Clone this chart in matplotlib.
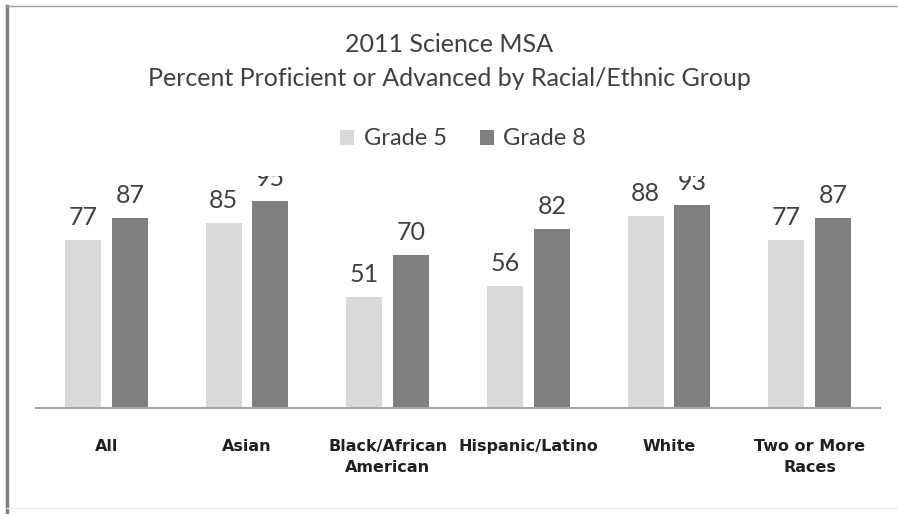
import numpy as np
import matplotlib.pyplot as plt
from matplotlib.lines import Line2D

groups = ['All', 'Asian', 'Black/African\nAmerican', 'Hispanic/Latino', 'White', 'Two or More\nRaces']
grade5 = [77, 85, 51, 56, 88, 77]
grade8 = [87, 95, 70, 82, 93, 87]

light = '#d9d9d9'
dark = '#7f7f7f'
txt = '#404040'

fig = plt.figure(figsize=(8.98, 5.14), dpi=100)
W, H = 898, 514
ax = fig.add_axes([36 / W, 1 - 408 / H, 844 / W, (408 - 176) / H])

x = np.arange(len(groups))
w = 0.256
b5 = ax.bar(x - 0.167, grade5, w, color=light, label='Grade 5')
b8 = ax.bar(x + 0.167, grade8, w, color=dark, label='Grade 8')

for bars, vals in [(b5, grade5), (b8, grade8)]:
    for r, v in zip(bars, vals):
        t = ax.annotate(str(v), (r.get_x() + r.get_width() / 2, v), xytext=(0, 8),
                        textcoords='offset points', ha='center', va='bottom',
                        fontsize=18, color=txt, family='Lato')
        t.set_clip_box(ax.bbox)
        t.set_clip_on(True)

ax.set_xlim(-0.5, 5.5)
ax.set_ylim(0, 106.4)
ax.set_yticks([])
ax.set_xticks(x)
ax.set_xticklabels(groups, fontsize=11.5, color='#202020', family='DejaVu Sans',
                   fontweight='bold', linespacing=1.5)
ax.tick_params(axis='x', length=0, pad=22)
for s in ['top', 'right', 'left']:
    ax.spines[s].set_visible(False)
ax.spines['bottom'].set_color('#a6a6a6')
ax.spines['bottom'].set_linewidth(1.5)

fig.text(0.5, 1 - 45 / H, '2011 Science MSA', ha='center', va='center',
         fontsize=18, color=txt, family='Lato')
fig.text(0.5, 1 - 78 / H, 'Percent Proficient or Advanced by Racial/Ethnic Group',
         ha='center', va='center', fontsize=18, color=txt, family='Lato')

fig.legend(handles=[b5, b8], loc='center', bbox_to_anchor=(463 / W, 1 - 139 / H),
           ncol=2, frameon=False, prop={'family': 'Lato', 'size': 17},
           labelcolor=txt, handlelength=0.6, handleheight=0.6, handletextpad=0.4,
           columnspacing=1.4)

# frame of the original picture
fig.add_artist(Line2D([7 / W, 7 / W], [0, 1 - 6 / H], color='#808080', lw=2.5))
fig.add_artist(Line2D([7 / W, 1], [1 - 6 / H, 1 - 6 / H], color='#a0a0a0', lw=1))
fig.add_artist(Line2D([7 / W, 1], [1 - 508 / H, 1 - 508 / H], color='#eeeeee', lw=1))

fig.savefig('out.png', dpi=100)
